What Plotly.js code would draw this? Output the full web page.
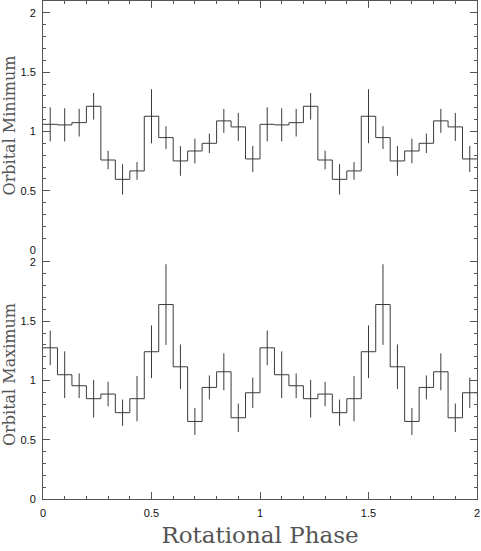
<!DOCTYPE html>
<html>
<head>
<meta charset="utf-8">
<script src="https://cdn.plot.ly/plotly-3.0.1.min.js"></script>
<style>html,body{margin:0;padding:0;background:#fff;}#chart{width:481px;height:551px;}</style>
</head>
<body>
<div id="chart"></div>
<script>
// 15 phase bins per rotation, shown twice (phase 0-2)
var binsPerCycle = 15;
var cycles = 2;
var minValues = [1.06, 1.055, 1.074, 1.212, 0.759, 0.596, 0.667, 1.128, 0.948, 0.751, 0.835, 0.900, 1.089, 1.038, 0.768];
var minErrors = [0.143, 0.140, 0.117, 0.112, 0.078, 0.128, 0.075, 0.228, 0.096, 0.125, 0.104, 0.082, 0.101, 0.118, 0.110];
var maxValues = [1.275, 1.048, 0.955, 0.846, 0.885, 0.728, 0.846, 1.242, 1.640, 1.115, 0.654, 0.941, 1.073, 0.685, 0.896];
var maxErrors = [0.146, 0.197, 0.104, 0.159, 0.103, 0.111, 0.191, 0.222, 0.340, 0.188, 0.114, 0.101, 0.156, 0.120, 0.128];
var xTickVals = [0, 0.5, 1, 1.5, 2];
var xTickText = ['0', '0.5', '1', '1.5', '2'];
var yTickVals = [0, 0.5, 1, 1.5, 2];
var yTickText = ['0', '0.5', '1', '1.5', '2'];

var lineColor = '#3a3a3a';
var nb = binsPerCycle * cycles;

function repeat(arr) { var out = []; for (var c = 0; c < cycles; c++) out = out.concat(arr); return out; }

function stepTrace(vals, xa, ya) {
  var v = repeat(vals);
  var xs = [], ys = [];
  for (var i = 0; i < nb; i++) { xs.push(i / binsPerCycle); ys.push(v[i]); }
  xs.push(nb / binsPerCycle); ys.push(v[nb - 1]);
  return {x: xs, y: ys, xaxis: xa, yaxis: ya, type: 'scatter', mode: 'lines',
    line: {shape: 'hv', color: lineColor, width: 1}, hoverinfo: 'skip', showlegend: false};
}
function errTrace(vals, errs, xa, ya) {
  var v = repeat(vals), e = repeat(errs);
  var xs = [];
  for (var i = 0; i < nb; i++) xs.push((i + 0.5) / binsPerCycle);
  return {x: xs, y: v, xaxis: xa, yaxis: ya, type: 'scatter', mode: 'markers',
    marker: {size: 0.1, color: 'rgba(0,0,0,0)'},
    error_y: {type: 'data', array: e, visible: true, width: 0, thickness: 1, color: lineColor},
    hoverinfo: 'skip', showlegend: false};
}

var data = [
  stepTrace(maxValues, 'x', 'y'),
  errTrace(maxValues, maxErrors, 'x', 'y'),
  stepTrace(minValues, 'x2', 'y2'),
  errTrace(minValues, minErrors, 'x2', 'y2')
];

var tickFont = {family: 'Liberation Sans, Arial, sans-serif', size: 11, color: '#111'};
var titleFont = {family: 'DejaVu Serif, serif', color: '#555'};
var axColor = '#555';

function yAxis(domain, title, anchor) {
  return {domain: domain, range: [0, 2.1], anchor: anchor,
    showline: true, linecolor: axColor, linewidth: 1, mirror: 'ticks',
    ticks: 'inside', ticklen: 7, tickcolor: axColor, tickwidth: 1,
    tickvals: yTickVals, ticktext: yTickText, tickfont: tickFont, ticklabelstandoff: 4,
    minor: {dtick: 0.1, ticks: 'inside', ticklen: 3, tickcolor: axColor, tickwidth: 1},
    showgrid: false, zeroline: false, fixedrange: true,
    title: {text: title, font: Object.assign({size: 16}, titleFont), standoff: 5}};
}

var layout = {
  width: 481, height: 551,
  margin: {l: 43, r: 4, t: 1, b: 52},
  paper_bgcolor: '#fff', plot_bgcolor: '#fff',
  showlegend: false,
  xaxis: {domain: [0, 1], range: [0, 2], anchor: 'y',
    showline: true, linecolor: axColor, linewidth: 1,
    ticks: 'inside', ticklen: 7, tickcolor: axColor, tickwidth: 1,
    tickvals: xTickVals, ticktext: xTickText, tickfont: tickFont, ticklabelstandoff: 4,
    minor: {dtick: 0.1, ticks: 'inside', ticklen: 3, tickcolor: axColor, tickwidth: 1},
    showgrid: false, zeroline: false,
    title: {text: 'Rotational Phase', font: Object.assign({size: 23}, titleFont), standoff: 8}},
  xaxis2: {domain: [0, 1], range: [0, 2], anchor: 'y2', side: 'top', matches: 'x',
    showline: true, linecolor: axColor, linewidth: 1,
    ticks: 'inside', ticklen: 7, tickcolor: axColor, tickwidth: 1,
    tickvals: xTickVals, showticklabels: false,
    minor: {dtick: 0.1, ticks: 'inside', ticklen: 3, tickcolor: axColor, tickwidth: 1},
    showgrid: false, zeroline: false},
  yaxis: yAxis([0, 0.5], 'Orbital Maximum', 'x'),
  yaxis2: yAxis([0.5, 1], 'Orbital Minimum', 'x2')
};

Plotly.newPlot('chart', data, layout, {staticPlot: true, displayModeBar: false});
</script>
</body>
</html>
